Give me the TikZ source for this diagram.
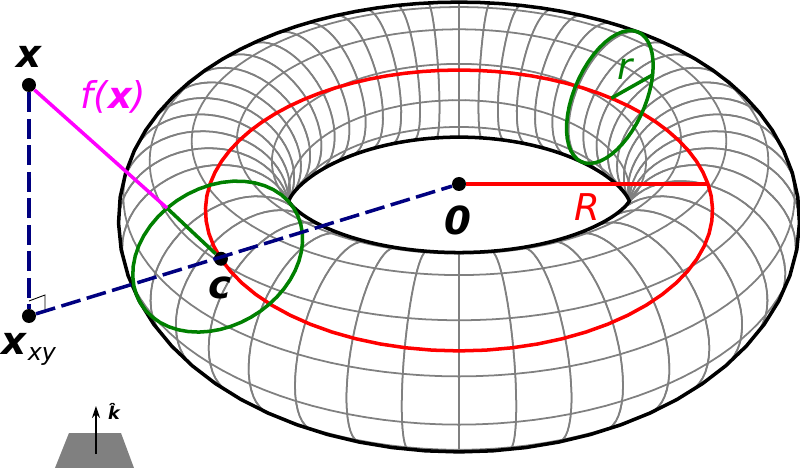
\documentclass[tikz,border=0pt]{standalone}
\usepackage{fontspec}
\setmainfont{DejaVu Sans}
\usetikzlibrary{arrows.meta}

\def\tubeR{0.32}
\def\camD{4.45}
\def\sinE{0.544}
\def\cosE{0.839}
\def\camF{22.16}

\definecolor{navy}{HTML}{000080}
\definecolor{leaf}{HTML}{008000}
\definecolor{pinkline}{HTML}{FF00FF}

\tikzset{
	declare function = {
		tdep(\u,\v) = \camD + (1 + \tubeR*cos(\v))*sin(\u)*\cosE - \tubeR*sin(\v)*\sinE;
		tx(\u,\v) = \camF*(1 + \tubeR*cos(\v))*cos(\u)/tdep(\u,\v);
		ty(\u,\v) = \camF*((1 + \tubeR*cos(\v))*sin(\u)*\sinE + \tubeR*sin(\v)*\cosE)/tdep(\u,\v);
		tvis(\u,\v) = (-\camD*\cosE*sin(\u) - 1)*cos(\v) + \camD*\sinE*sin(\v) - \tubeR;
		vmid(\u) = atan2(\camD*\sinE, -\camD*\cosE*sin(\u) - 1);
		vwid(\u) = acos(\tubeR/sqrt((\camD*\cosE*sin(\u) + 1)^2 + (\camD*\sinE)^2));
		cx(\u) = \camF*cos(\u)/(\camD + sin(\u)*\cosE);
		cy(\u) = \camF*sin(\u)*\sinE/(\camD + sin(\u)*\cosE);
	},
	meshline/.style = {gray, line width = 1pt, line cap = round, line join = round},
	edgeline/.style = {black, line width = 2pt, line join = round, line cap = round},
	thick line/.style = {line width = 2pt},
	navyline/.style = {navy, line width = 2pt, dash pattern = on 4mm off 1.3mm},
	dot/.style = {circle, fill = black, inner sep = 0, minimum size = 2.8mm},
	bigname/.style = {font = \fontsize{22}{22}\selectfont\bfseries\itshape},
	thinname/.style = {font = \fontsize{21}{21}\selectfont\itshape}
}

\begin{document}
\begin{tikzpicture}

	\useasboundingbox (-9.18, -5.68) rectangle (6.82, 3.68);

	% The mesh, slice by slice from the far side to the near side

	\foreach \k in {0, 1, ..., 23}
	{
		\pgfmathsetmacro\ua{90 - 7.5*\k}
		\pgfmathsetmacro\ub{\ua - 7.5}
		\pgfmathsetmacro\aL{vmid(\ua) - vwid(\ua)}
		\pgfmathsetmacro\aH{vmid(\ua) + vwid(\ua)}
		\pgfmathsetmacro\bL{vmid(\ub) - vwid(\ub)}
		\pgfmathsetmacro\bH{vmid(\ub) + vwid(\ub)}

		\foreach \m in {1, -1}
		{
			\begin{scope}[xscale = \m]

				\fill [white] plot [domain = \aL:\aH, samples = 9, variable = \v] ({tx(\ua, \v)}, {ty(\ua, \v)})
					-- plot [domain = \bH:\bL, samples = 9, variable = \v] ({tx(\ub, \v)}, {ty(\ub, \v)}) -- cycle;

				\foreach \v in {-2, 28, ..., 328}
				\foreach \i in {0, 2.5, 5}
				{
					\pgfmathsetmacro\up{\ua - \i}
					\pgfmathsetmacro\uq{\ua - \i - 2.5}
					\pgfmathsetmacro\vis{min(tvis(\up, \v), tvis(\uq, \v))}
					\ifdim \vis pt > 0pt
						\draw [meshline] ({tx(\up, \v)}, {ty(\up, \v)}) -- ({tx(\uq, \v)}, {ty(\uq, \v)});
					\fi
				}

				\draw [meshline] plot [domain = \aL:\aH, samples = 29, variable = \v] ({tx(\ua, \v)}, {ty(\ua, \v)});
				\draw [meshline] plot [domain = \bL:\bH, samples = 29, variable = \v] ({tx(\ub, \v)}, {ty(\ub, \v)});

			\end{scope}
		}
	}

	% The rims

	\draw [edgeline] plot [domain = -90:270, samples = 145, variable = \w]
		({tx(\w, vmid(\w) + vwid(\w))}, {ty(\w, vmid(\w) + vwid(\w))}) -- cycle;
	\draw [edgeline] plot [domain = -90:270, samples = 73, variable = \w]
		({tx(\w, vmid(\w) - vwid(\w))}, {ty(\w, vmid(\w) - vwid(\w))}) -- cycle;

	% The circles

	\draw [red, thick line] plot [domain = 0:360, samples = 73, variable = \w] ({cx(\w)}, {cy(\w)}) -- cycle;
	\draw [leaf, thick line] plot [domain = 0:360, samples = 49, variable = \v] ({tx(210, \v)}, {ty(210, \v)}) -- cycle;
	\draw [leaf, thick line] plot [domain = 0:360, samples = 49, variable = \v] ({tx(46, \v)}, {ty(46, \v)}) -- cycle;

	% The points

	\node [dot] (origin) at (0, 0) {};
	\node [dot] (centre) at ({cx(210)}, {cy(210)}) {};
	\node [dot] (point) at (-8.6, 1.98) {};
	\node [dot] (shadow) at (-8.6, -2.64) {};
	\coordinate (rimleft) at ({tx(210, 60)}, {ty(210, 60)});
	\coordinate (rimright) at ({tx(46, 0)}, {ty(46, 0)});
	\coordinate (bigend) at ({cx(0)}, {cy(0)});
	\coordinate (smallend) at ({cx(46)}, {cy(46)});

	% The lengths

	\draw [red, thick line] (origin) -- (bigend);
	\draw [leaf, thick line] (centre) -- (rimleft);
	\draw [leaf, thick line] (smallend) -- (rimright);
	\draw [pinkline, thick line] (point) -- (rimleft);
	\draw [navyline] (point) -- (shadow);
	\draw [navyline] (shadow) -- (origin);
	\draw [line width = 0.5pt] (-8.6, -2.34) -- (-8.28, -2.22) -- (-8.28, -2.5);

	% The labels

	\node [bigname] (pointname) at (-8.6, 2.54) {x};
	\node [thinname, pinkline] (distname) at (-6.91, 1.74) {f(\textbf{x})};
	\node [bigname] (originname) at (-0.02, -0.72) {0};
	\node [thinname, red] (bigname) at (2.56, -0.46) {R};
	\node [thinname, leaf] (smallname) at (3.32, 2.29) {r};
	\node [bigname] (centrename) at (-4.78, -2.08) {c};
	\node [bigname] (shadowname) at (-8.6, -3.31) {x\textnormal{\fontsize{13.5}{13.5}\selectfont\itshape\raisebox{-1.2mm}{xy}}};

	% The tilted plate and its normal

	\fill [gray] (-8.08, -5.68) -- (-7.8, -4.98) -- (-6.76, -4.98) -- (-6.5, -5.68) -- cycle;
	\coordinate (stem) at (-7.26, -5.4);
	\coordinate (tip) at (-7.26, -4.44);
	\draw [line width = 0.7pt, -{Stealth[length = 2.4mm, width = 1.6mm]}] (stem) -- (tip);
	\node [font = \fontsize{10}{10}\selectfont\bfseries\itshape] (normalname) at (-6.9, -4.55) {\^k};

\end{tikzpicture}
\end{document}
